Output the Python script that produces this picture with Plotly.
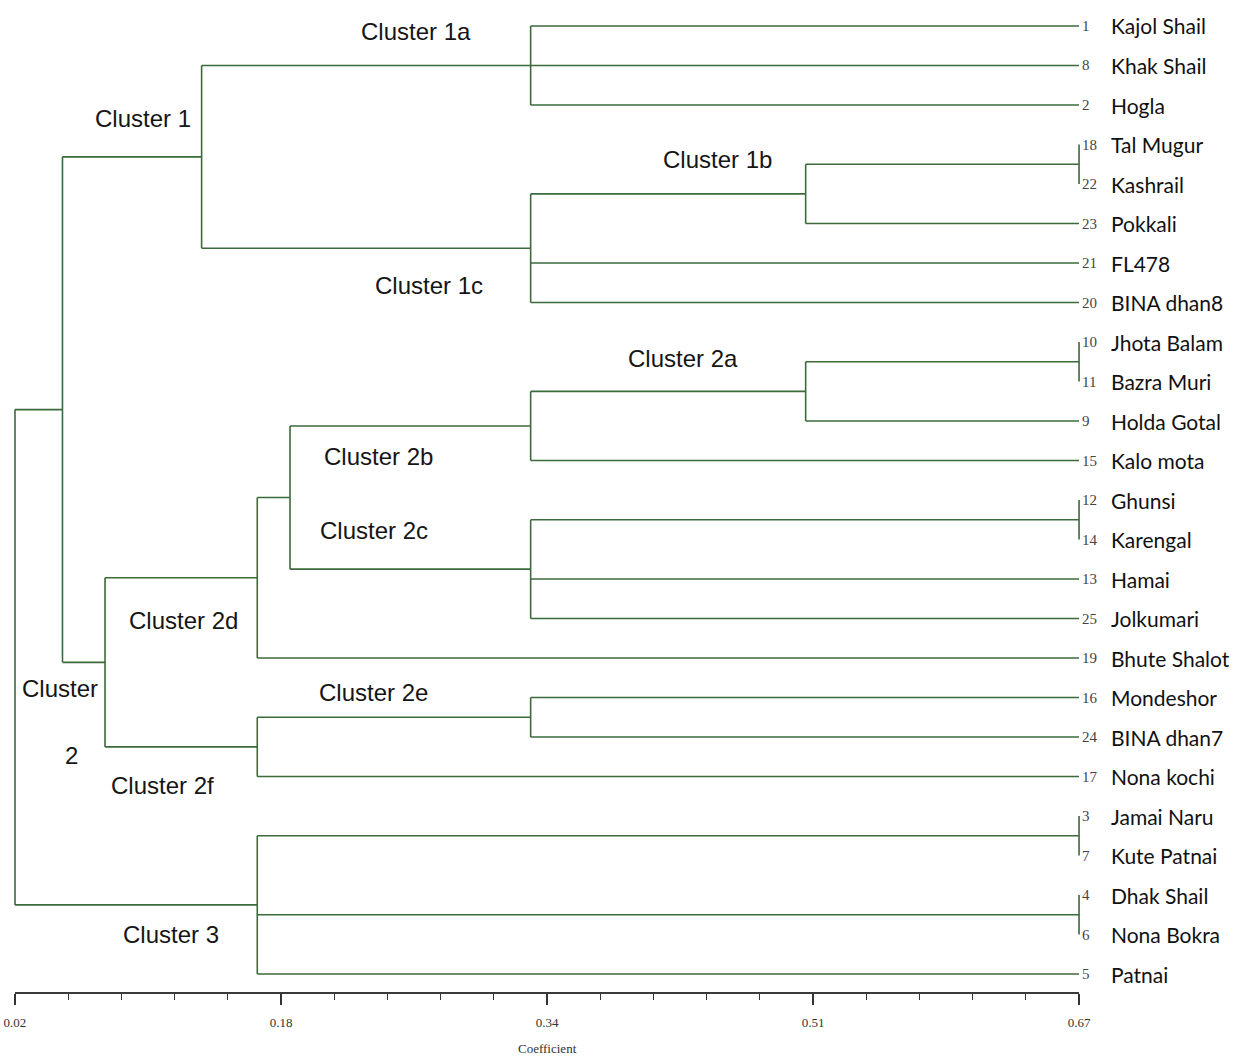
import plotly.graph_objects as go

# ---------------- data ----------------
leaf_ids = [1, 8, 2, 18, 22, 23, 21, 20, 10, 11, 9, 15, 12, 14, 13, 25, 19, 16, 24, 17, 3, 7, 4, 6, 5]
leaf_names = ["Kajol Shail", "Khak Shail", "Hogla", "Tal Mugur", "Kashrail", "Pokkali", "FL478",
              "BINA dhan8", "Jhota Balam", "Bazra Muri", "Holda Gotal", "Kalo mota", "Ghunsi",
              "Karengal", "Hamai", "Jolkumari", "Bhute Shalot", "Mondeshor", "BINA dhan7",
              "Nona kochi", "Jamai Naru", "Kute Patnai", "Dhak Shail", "Nona Bokra", "Patnai"]
leaf_level = 0.67

node_names = ["p18_22", "1b", "1a", "1c", "C1", "p10_11", "2a", "2b", "p12_14", "2c", "n2bc",
              "2d", "2e", "2f", "C2", "C12", "p3_7", "p4_6", "C3", "root"]
node_children = [[18, 22], ["p18_22", 23], [1, 8, 2], ["1b", 21, 20], ["1a", "1c"],
                 [10, 11], ["p10_11", 9], ["2a", 15], [12, 14], ["p12_14", 13, 25], ["2b", "2c"],
                 ["n2bc", 19], [16, 24], ["2e", 17], ["2d", "2f"], ["C1", "C2"],
                 [3, 7], [4, 6], ["p3_7", "p4_6", 5], ["C12", "C3"]]
node_coef = [0.67, 0.503, 0.335, 0.335, 0.134, 0.67, 0.503, 0.335, 0.67, 0.335, 0.188,
             0.168, 0.335, 0.168, 0.075, 0.049, 0.67, 0.67, 0.168, 0.02]

tick_vals = [0.02, 0.1825, 0.345, 0.5075, 0.67]
tick_text = ["0.02", "0.18", "0.34", "0.51", "0.67"]
minor_vals = [0.0525, 0.085, 0.1175, 0.15, 0.215, 0.2475, 0.28, 0.3125,
              0.3775, 0.41, 0.4425, 0.475, 0.54, 0.5725, 0.605, 0.6375]

cluster_labels = ["Cluster 1a", "Cluster 1", "Cluster 1b", "Cluster 1c", "Cluster 2a",
                  "Cluster 2b", "Cluster 2c", "Cluster 2d", "Cluster", "2", "Cluster 2e",
                  "Cluster 2f", "Cluster 3"]
cluster_label_x = [0.265, 0.098, 0.449, 0.273, 0.428, 0.242, 0.239, 0.123, 0.0475, 0.0548,
                   0.239, 0.110, 0.115]
cluster_label_y = [0.15, 2.33, 3.39, 6.56, 8.41, 10.89, 12.78, 15.04, 16.76, 18.46, 16.86,
                   19.22, 22.99]

# ---------------- layout of tree ----------------
pos = {lid: (leaf_level, float(i)) for i, lid in enumerate(leaf_ids)}
xs, ys = [], []
for name, kids, c in zip(node_names, node_children, node_coef):
    kid_pos = [pos[k] for k in kids]
    kys = [p[1] for p in kid_pos]
    y0, y1 = min(kys), max(kys)
    xs += [c, c, None]
    ys += [y0, y1, None]
    for kx, ky in kid_pos:
        xs += [c, kx, None]
        ys += [ky, ky, None]
    pos[name] = (c, (y0 + y1) / 2)

line_color = "#3b6a3b"
fig = go.Figure()
fig.add_trace(go.Scatter(x=xs, y=ys, mode="lines",
                         line=dict(color=line_color, width=1.6),
                         hoverinfo="skip", showlegend=False))

ann = []
for i, (lid, nm) in enumerate(zip(leaf_ids, leaf_names)):
    ann.append(dict(x=leaf_level, y=i, xref="x", yref="y", text=str(lid), showarrow=False,
                    xanchor="left", xshift=1,
                    font=dict(family="Liberation Serif, serif", size=15, color="#444")))
    ann.append(dict(x=leaf_level, y=i, xref="x", yref="y", text=nm, showarrow=False,
                    xanchor="left", xshift=30,
                    font=dict(family="Lato, Open Sans, sans-serif", size=21, color="#111")))
for t, cx, cy in zip(cluster_labels, cluster_label_x, cluster_label_y):
    ann.append(dict(x=cx, y=cy, xref="x", yref="y", text=t, showarrow=False,
                    xanchor="center", yanchor="middle",
                    font=dict(family="Liberation Sans, Arial, sans-serif",
                              size=24, color="#151515")))
ann.append(dict(x=0.345, y=0, xref="x", yref="paper", yshift=-55, text="Coefficient",
                showarrow=False, yanchor="middle",
                font=dict(family="Liberation Serif, serif", size=13, color="#333")))

fig.update_layout(
    width=1243, height=1059, autosize=False,
    margin=dict(l=0, r=0, t=0, b=66),
    paper_bgcolor="white", plot_bgcolor="white",
    annotations=ann,
    shapes=[dict(type="line", xref="x", yref="paper", x0=0.02, x1=0.67, y0=0, y1=0,
                 line=dict(color="#3a3a3a", width=2))],
    xaxis=dict(range=[0.01084, 0.77016], showgrid=False, zeroline=False, showline=False,
               tickvals=tick_vals, ticktext=tick_text, ticks="outside", ticklen=11,
               tickwidth=1.5, tickcolor="#333", ticklabelstandoff=6,
               tickfont=dict(family="Liberation Serif, serif", size=13, color="#333"),
               minor=dict(tickvals=minor_vals, ticks="outside", ticklen=6, tickwidth=1.3,
                          tickcolor="#333")),
    yaxis=dict(range=[24.48, -0.658], visible=False, showgrid=False, zeroline=False),
)

fig.write_html("out.html", config={"displayModeBar": False},
               post_script="document.body.style.margin='0';")
